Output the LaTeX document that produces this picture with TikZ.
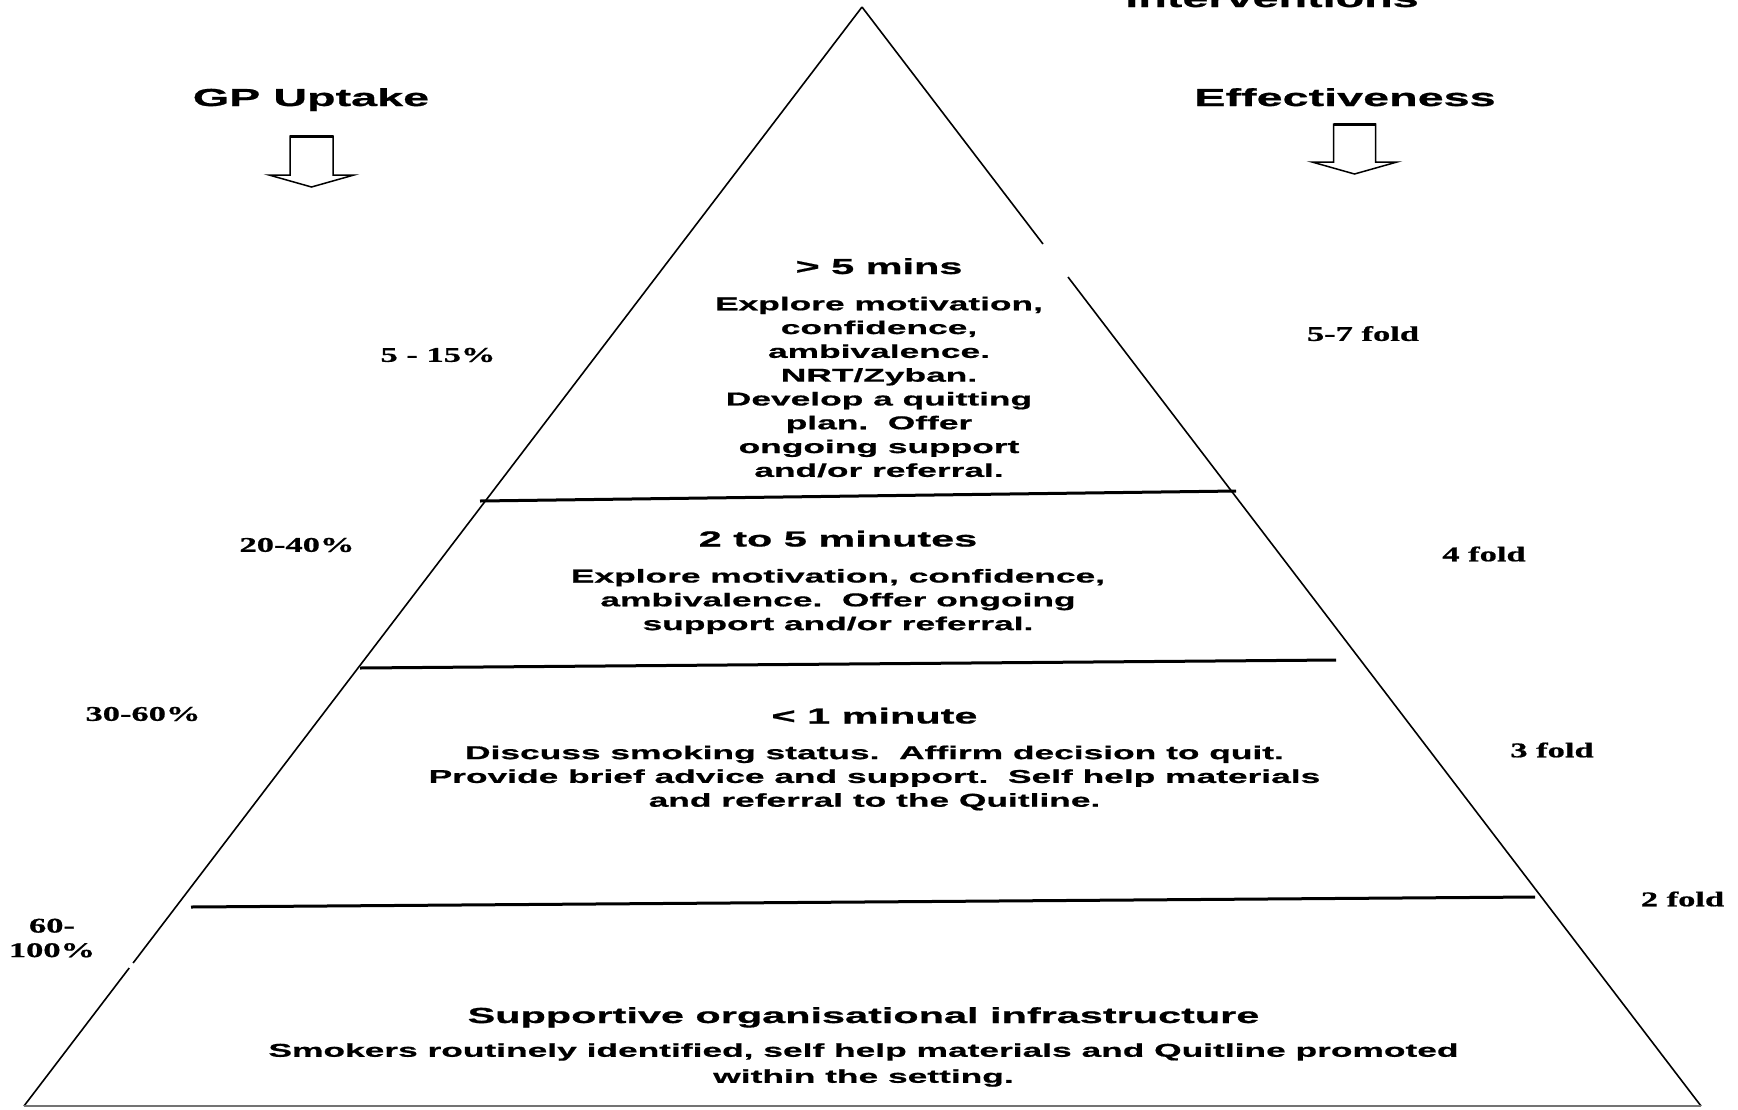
\documentclass[tikz,border=0pt]{standalone}
\usepackage{fontspec}
\newfontfamily\sansx[FakeStretch=1.9,FakeBold=0.8]{Liberation Sans}
\newfontfamily\serifx[FakeStretch=1.65,FakeBold=0.8]{Liberation Serif}
\tikzset{
  sideedge/.style={line width=1.6pt, black},
  baseedge/.style={line width=2pt, black!55},
  divider/.style={line width=3pt, black},
  arrowline/.style={line width=1.5pt, black, line join=miter},
  arrowtop/.style={line width=3pt, black},
  hdtext/.style={font=\sansx\bfseries\fontsize{24.6}{28}\selectfont, inner sep=0pt},
  tiertitle/.style={font=\sansx\bfseries\fontsize{21.8}{25}\selectfont, inner sep=0pt},
  tierbody/.style={font=\sansx\bfseries\fontsize{18.6}{23.8}\selectfont, align=center, inner sep=0pt},
  sidelabel/.style={font=\serifx\bfseries\fontsize{20.9}{24.5}\selectfont, align=center, inner sep=0pt}
}
\begin{document}
\begin{tikzpicture}[x=1pt,y=-1pt]
\useasboundingbox (0,0) rectangle (1738,1109);
\fill[white] (0,0) rectangle (1738,1109);
\clip (0,0) rectangle (1738,1109);

% pyramid corners
\coordinate (apex) at (862,7);
\coordinate (bl) at (24,1106);
\coordinate (br) at (1701,1106);
\coordinate (rgapA) at (1043,244);
\coordinate (rgapB) at (1068,277);
\coordinate (lgapA) at (133.1,963);
\coordinate (lgapB) at (129.2,968);

\draw[sideedge] (apex) -- (rgapA);
\draw[sideedge] (rgapB) -- (br);
\draw[sideedge] (apex) -- (lgapA);
\draw[sideedge] (lgapB) -- (bl);
\draw[baseedge] (bl) -- (br);

% dividers
\coordinate (d1l) at (480,501);
\coordinate (d1r) at (1236,491);
\coordinate (d2l) at (360,668);
\coordinate (d2r) at (1336,660);
\coordinate (d3l) at (191,907);
\coordinate (d3r) at (1535,897);
\draw[divider] (d1l) -- (d1r);
\draw[divider] (d2l) -- (d2r);
\draw[divider] (d3l) -- (d3r);

% block arrows
\draw[arrowline] (290,136) -- (333,136) -- (333,175) -- (354,175) -- (311.5,187) -- (269,175) -- (290,175) -- cycle;
\draw[arrowtop] (290,136) -- (333,136);
\draw[arrowline] (1333.5,124) -- (1375.5,124) -- (1375.5,162) -- (1397,162) -- (1354.5,174) -- (1312,162) -- (1333.5,162) -- cycle;
\draw[arrowtop] (1333.5,124) -- (1375.5,124);

% headings
\node[hdtext, anchor=base] (interv) at (1272,7) {Interventions};
\node[hdtext, anchor=base] (gp) at (311,106) {GP Uptake};
\node[hdtext, anchor=base] (eff) at (1345,106) {Effectiveness};

% tier 1
\node[tiertitle, anchor=base] (t1title) at (879,274) {> 5 mins};
\node[tierbody] (t1body) at (879,387) {Explore motivation,\\confidence,\\ambivalence.\\NRT/Zyban.\\Develop a quitting\\plan.\ \ Offer\\ongoing support\\and/or referral.};

% tier 2
\node[tiertitle, anchor=base] (t2title) at (838,546.5) {2 to 5 minutes};
\node[tierbody] (t2body) at (838,601.5) {Explore motivation, confidence,\\ambivalence.\ \ Offer ongoing\\support and/or referral.};

% tier 3
\node[tiertitle, anchor=base] (t3title) at (874.5,723.5) {< 1 minute};
\node[tierbody] (t3body) at (874.5,778) {Discuss smoking status.\ \ Affirm decision to quit.\\Provide brief advice and support.\ \ Self help materials\\and referral to the Quitline.};

% tier 4
\node[tiertitle, anchor=base] (t4title) at (863.5,1023) {Supportive organisational infrastructure};
\node[tierbody, font=\sansx\bfseries\fontsize{18.6}{26}\selectfont] (t4body) at (863.5,1065) {Smokers routinely identified, self help materials and Quitline promoted\\within the setting.};

% uptake labels
\node[sidelabel] (up1) at (438,355) {5 - 15\%};
\node[sidelabel] (up2) at (297,545) {20-40\%};
\node[sidelabel] (up3) at (143,714) {30-60\%};
\node[sidelabel] (up4) at (52,938) {60-\\100\%};

% effectiveness labels
\node[sidelabel] (ef1) at (1363,333.6) {5-7 fold};
\node[sidelabel] (ef2) at (1484,554) {4 fold};
\node[sidelabel] (ef3) at (1552,750) {3 fold};
\node[sidelabel] (ef4) at (1682.5,899) {2 fold};
\end{tikzpicture}
\end{document}
